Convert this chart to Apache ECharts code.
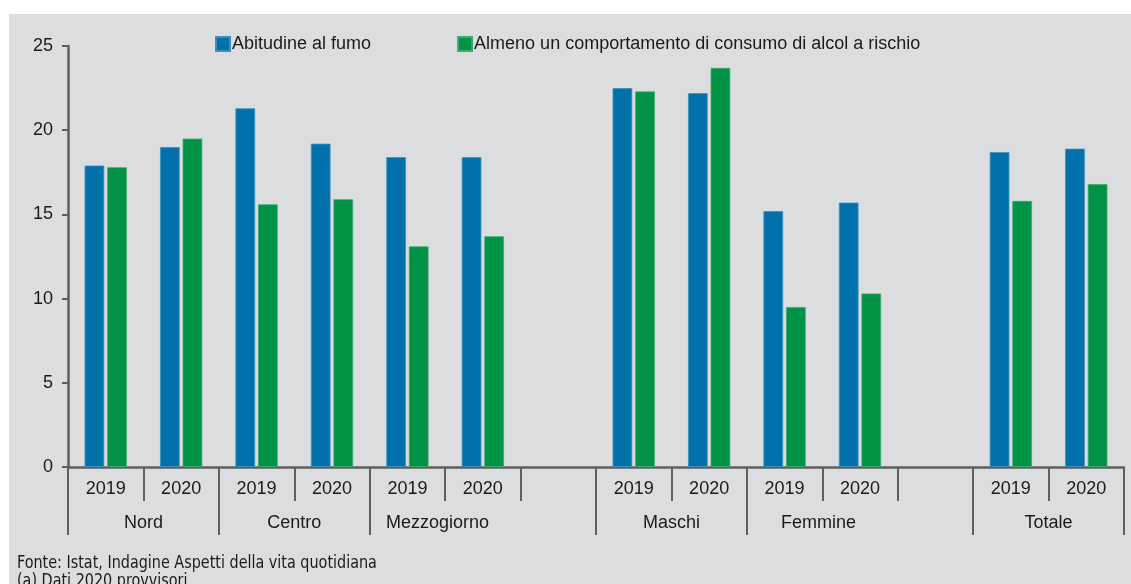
<!DOCTYPE html>
<html>
<head>
<meta charset="utf-8">
<script src="https://cdn.jsdelivr.net/npm/echarts@6/dist/echarts.min.js"></script>
<style>
html,body{margin:0;padding:0;background:#fff;}
#c{width:1131px;height:584px;}
</style>
</head>
<body>
<div id="c"></div>
<script>
var categories = ['2019','2020','2019','2020','2019','2020','','2019','2020','2019','2020','','2019','2020'];
var fumo  = [17.9,19.0,21.3,19.2,18.4,18.4,null,22.5,22.2,15.2,15.7,null,18.7,18.9];
var alcol = [17.8,19.5,15.6,15.9,13.1,13.7,null,22.3,23.7,9.5,10.3,null,15.8,16.8];
var seriesNames = ['Abitudine al fumo','Almeno un comportamento di consumo di alcol a rischio'];
var groupNames = ['Nord','Centro','Mezzogiorno','Maschi','Femmine','Totale'];
var groupLabelPos = [1,3,4.9,8,9.95,13];
var groupBounds = [0,2,4,7,9,12,14];
var yTicks = [0,5,10,15,20,25];
var notes = ['Fonte: Istat, Indagine Aspetti della vita quotidiana','(a) Dati 2020 provvisori'];

var axisCol = '#5f5f5f';
var txtCol = '#1a1a1a';
var font = '"Liberation Sans", Arial, sans-serif';

var chart = echarts.init(document.getElementById('c'));
chart.setOption({
  backgroundColor:'#ffffff',
  animation:false,
  textStyle:{fontFamily:font},
  graphic:[
    {type:'rect', z:-100, left:9, top:14, shape:{width:1122, height:570}, style:{fill:'#dcdddf'}},
    {type:'text', x:17, y:555, scaleX:0.94, z:10, style:{text:notes.join('\n'), font:'17px "Liberation Sans Narrow", "DejaVu Sans Condensed", sans-serif', lineHeight:18, fill:txtCol}}
  ],
  legend:{
    left:215, top:35, padding:0, itemWidth:14, itemHeight:14, itemGap:86, icon:'rect',
    textStyle:{fontSize:18, color:txtCol, fontFamily:font, padding:[0,0,0,-3]},
    data:seriesNames
  },
  grid:{left:68, right:7, top:46, bottom:117, containLabel:false},
  xAxis:[
    {type:'category', data:categories, position:'bottom',
     axisLine:{show:true, lineStyle:{color:axisCol, width:2.5}},
     axisTick:{show:true, interval:0, length:34, lineStyle:{color:axisCol, width:2}},
     axisLabel:{interval:0, fontSize:18, color:txtCol, margin:13, fontFamily:font},
     splitLine:{show:false}},
    {type:'value', min:0, max:14, position:'bottom', gridIndex:0,
     axisLine:{show:false},
     axisTick:{show:true, customValues:groupBounds, length:68, lineStyle:{color:axisCol, width:2}},
     axisLabel:{show:true, customValues:groupLabelPos, fontSize:18, color:txtCol, margin:47, fontFamily:font,
       formatter:function(v){ var i = groupLabelPos.indexOf(v); return i>=0 ? groupNames[i] : ''; }},
     splitLine:{show:false}}
  ],
  yAxis:{type:'value', min:0, max:25, interval:5,
    axisLine:{show:true, lineStyle:{color:axisCol, width:2.5}},
    axisTick:{show:true, length:6, lineStyle:{color:axisCol, width:2}},
    axisLabel:{fontSize:18, color:txtCol, margin:15, fontFamily:font,
      formatter:function(v){ return yTicks.indexOf(v)>=0 ? String(v) : ''; }},
    splitLine:{show:false}},
  series:[
    {name:seriesNames[0], type:'bar', data:fumo, barGap:'15%', barCategoryGap:'44%',
     itemStyle:{color:'#0071aa', borderColor:'#3f8fbf', borderWidth:0.8}},
    {name:seriesNames[1], type:'bar', data:alcol, barGap:'15%', barCategoryGap:'44%',
     itemStyle:{color:'#009245', borderColor:'#40a96f', borderWidth:0.8}}
  ]
});
</script>
</body>
</html>
